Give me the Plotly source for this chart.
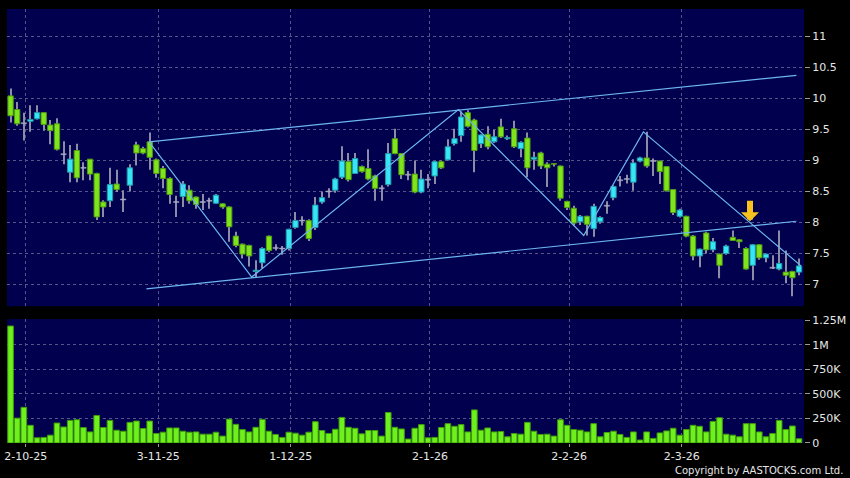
import plotly.graph_objects as go

# ---------------- data ----------------
opens = [10.04, 9.82, 9.60, 9.63, 9.67, 9.77, 9.57, 9.59, 9.10, 8.81,
         9.16, 8.88, 9.02, 8.79, 8.33, 8.35, 8.62, 8.37, 8.60, 9.25,
         9.19, 9.30, 9.01, 8.87, 8.71, 8.33, 8.42, 8.52, 8.41, 8.33,
         8.35, 8.31, 8.30, 8.25, 7.78, 7.65, 7.63, 7.21, 7.35, 7.78,
         7.59, 7.58, 7.58, 7.92, 8.03, 8.03, 7.92, 8.33, 8.50, 8.52,
         8.73, 8.98, 8.79, 8.90, 8.87, 8.75, 8.55, 8.61, 9.35, 9.11,
         8.77, 8.78, 8.49, 8.69, 8.75, 8.98, 9.01, 9.27, 9.40, 9.77,
         9.65, 9.27, 9.42, 9.30, 9.54, 9.35, 9.51, 9.19, 9.36, 9.02,
         9.12, 8.94, 8.95, 8.91, 8.34, 8.23, 8.01, 8.10, 7.90, 8.01,
         8.27, 8.40, 8.68, 8.70, 8.65, 8.99, 9.04, 8.99, 8.99, 8.90,
         8.53, 8.10, 8.10, 7.78, 7.46, 7.83, 7.56, 7.49, 7.50, 7.76,
         7.72, 7.58, 7.31, 7.64, 7.43, 7.27, 7.25, 7.20, 7.21, 7.20]
highs = [10.16, 9.94, 9.77, 9.89, 9.89, 9.78, 9.65, 9.68, 9.31, 9.25,
         9.27, 8.97, 9.02, 8.80, 8.36, 8.88, 8.85, 8.52, 8.94, 9.30,
         9.22, 9.45, 9.03, 8.91, 8.73, 8.43, 8.67, 8.60, 8.42, 8.46,
         8.40, 8.46, 8.31, 8.26, 7.85, 7.66, 7.64, 7.39, 7.60, 7.79,
         7.65, 7.62, 7.90, 8.17, 8.10, 8.05, 8.41, 8.50, 8.55, 8.72,
         9.23, 9.12, 9.12, 8.92, 9.18, 8.77, 8.60, 9.28, 9.51, 9.12,
         8.83, 9.00, 8.85, 8.78, 8.99, 9.00, 9.34, 9.51, 9.79, 9.81,
         9.67, 9.42, 9.55, 9.49, 9.67, 9.40, 9.64, 9.31, 9.45, 9.14,
         9.14, 8.97, 8.96, 8.92, 8.35, 8.27, 8.12, 8.11, 8.30, 8.10,
         8.34, 8.60, 8.75, 8.77, 9.02, 9.06, 9.46, 9.03, 9.00, 8.91,
         8.54, 8.22, 8.11, 7.80, 7.58, 7.85, 7.75, 7.50, 7.64, 7.87,
         7.73, 7.60, 7.65, 7.65, 7.50, 7.47, 7.87, 7.55, 7.22, 7.42]
lows = [9.61, 9.56, 9.32, 9.46, 9.66, 9.48, 9.26, 9.16, 8.94, 8.65,
        8.65, 8.68, 8.68, 8.04, 8.09, 8.25, 8.49, 8.17, 8.50, 8.92,
        9.10, 8.85, 8.72, 8.55, 8.30, 8.09, 8.25, 8.30, 8.22, 8.20,
        8.22, 8.30, 8.22, 7.69, 7.60, 7.42, 7.29, 7.11, 7.26, 7.52,
        7.55, 7.48, 7.55, 7.90, 7.95, 7.70, 7.88, 8.30, 8.40, 8.48,
        8.70, 8.66, 8.78, 8.80, 8.68, 8.35, 8.35, 8.58, 9.10, 8.70,
        8.68, 8.47, 8.47, 8.55, 8.62, 8.86, 9.00, 9.24, 9.30, 9.53,
        8.81, 9.20, 9.18, 9.28, 9.36, 9.33, 9.20, 9.05, 8.73, 8.85,
        8.86, 8.57, 8.90, 8.35, 8.20, 7.95, 7.96, 7.79, 7.77, 7.98,
        8.14, 8.36, 8.58, 8.63, 8.51, 8.97, 8.88, 8.75, 8.62, 8.50,
        8.12, 8.08, 7.76, 7.39, 7.28, 7.50, 7.52, 7.10, 7.48, 7.70,
        7.59, 7.24, 7.07, 7.40, 7.36, 7.25, 7.23, 7.02, 6.81, 7.15]
closes = [9.72, 9.59, 9.60, 9.66, 9.77, 9.58, 9.48, 9.18, 9.10, 9.02,
          8.72, 8.88, 8.78, 8.09, 8.25, 8.61, 8.53, 8.37, 8.88, 9.12,
          9.12, 9.05, 8.79, 8.71, 8.45, 8.33, 8.62, 8.35, 8.29, 8.33,
          8.35, 8.44, 8.25, 7.93, 7.63, 7.49, 7.46, 7.23, 7.58, 7.55,
          7.59, 7.58, 7.89, 8.03, 8.03, 7.74, 8.28, 8.40, 8.50, 8.70,
          8.99, 8.69, 9.03, 8.82, 8.70, 8.55, 8.55, 9.11, 9.11, 8.77,
          8.77, 8.49, 8.70, 8.69, 8.98, 8.88, 9.22, 9.35, 9.70, 9.55,
          9.16, 9.41, 9.22, 9.38, 9.38, 9.37, 9.22, 9.29, 8.88, 9.05,
          8.91, 8.88, 8.94, 8.39, 8.24, 7.99, 8.10, 7.97, 8.26, 8.08,
          8.27, 8.58, 8.68, 8.70, 8.96, 9.04, 8.91, 8.99, 8.82, 8.51,
          8.16, 8.20, 7.78, 7.46, 7.57, 7.56, 7.69, 7.31, 7.62, 7.71,
          7.69, 7.25, 7.64, 7.43, 7.49, 7.27, 7.34, 7.15, 7.11, 7.30]
volumes = [1190e3, 253e3, 363e3, 180e3, 53e3, 57e3, 80e3, 203e3, 163e3, 230e3,
           237e3, 157e3, 113e3, 280e3, 157e3, 230e3, 130e3, 120e3, 210e3, 223e3,
           147e3, 223e3, 97e3, 110e3, 153e3, 153e3, 120e3, 110e3, 113e3, 90e3,
           90e3, 110e3, 70e3, 243e3, 190e3, 137e3, 113e3, 160e3, 240e3, 120e3,
           87e3, 57e3, 110e3, 100e3, 80e3, 110e3, 217e3, 127e3, 97e3, 140e3,
           260e3, 160e3, 150e3, 93e3, 127e3, 127e3, 70e3, 310e3, 160e3, 143e3,
           40e3, 150e3, 187e3, 53e3, 57e3, 157e3, 197e3, 170e3, 187e3, 113e3,
           337e3, 130e3, 153e3, 113e3, 117e3, 63e3, 97e3, 90e3, 210e3, 120e3,
           87e3, 90e3, 70e3, 237e3, 180e3, 137e3, 130e3, 113e3, 197e3, 63e3,
           107e3, 120e3, 87e3, 57e3, 113e3, 30e3, 113e3, 47e3, 103e3, 123e3,
           150e3, 80e3, 137e3, 180e3, 170e3, 113e3, 220e3, 257e3, 90e3, 80e3,
           63e3, 197e3, 197e3, 113e3, 63e3, 97e3, 230e3, 137e3, 173e3, 43e3]

# month tick labels: index of the first trading day of each month
month_idx = [2, 22, 42, 63, 84, 101]
month_labels = ["2-10-25", "3-11-25", "1-12-25", "2-1-26", "2-2-26", "2-3-26"]

price_ticks = [7, 7.5, 8, 8.5, 9, 9.5, 10, 10.5, 11]
price_tick_text = ["7", "7.5", "8", "8.5", "9", "9.5", "10", "10.5", "11"]
vol_ticks = [0, 250e3, 500e3, 750e3, 1000e3, 1250e3]
vol_tick_text = ["0", "250K", "500K", "750K", "1M", "1.25M"]

# drawn trend lines (candle index, price)
channel_upper_x = [20.9, 118.6]
channel_upper_y = [9.30, 10.37]
channel_lower_x = [20.5, 118.6]
channel_lower_y = [6.93, 8.02]
zigzag_x = [20.9, 36.4, 67.6, 86.5, 95.5, 119.3]
zigzag_y = [9.30, 7.12, 9.82, 7.79, 9.46, 7.30]
signal_x = 111.6
signal_y = 8.02

# ---------------- figure ----------------
n = len(opens)
idx = list(range(n))

GREEN = "#80e41c"
GREEN_EDGE = "#4f9c12"
CYAN = "#36e6f4"
CYAN_EDGE = "#1f9aaa"
WICK = "#8c8ca6"
DOJI = "#a8a8c4"
NAVY = "#00004f"
GRID = "#55558a"
TXT = "#e6e6e6"
DOJI_H = 0.016  # drawn thickness of a flat (open == close) body

fig = go.Figure()

# wicks: thin floating bars from low to high
fig.add_trace(go.Bar(
    x=idx, y=[highs[i] - lows[i] for i in idx], base=lows,
    width=0.16, marker=dict(color=WICK, line=dict(width=0)),
    xaxis="x", yaxis="y", hoverinfo="skip", showlegend=False))

up = [i for i in idx if closes[i] > opens[i]]
dn = [i for i in idx if closes[i] < opens[i]]
flat = [i for i in idx if closes[i] == opens[i]]

# candle bodies as floating bars (base = lower of open/close)
fig.add_trace(go.Bar(
    x=flat, y=[DOJI_H] * len(flat), base=[opens[i] - DOJI_H / 2 for i in flat],
    width=0.8, marker=dict(color=DOJI, line=dict(color=DOJI, width=0.5)),
    xaxis="x", yaxis="y", hoverinfo="skip", showlegend=False))
fig.add_trace(go.Bar(
    x=up, y=[closes[i] - opens[i] for i in up], base=[opens[i] for i in up],
    width=0.8, marker=dict(color=CYAN, line=dict(color=CYAN_EDGE, width=1)),
    xaxis="x", yaxis="y", hoverinfo="skip", showlegend=False))
fig.add_trace(go.Bar(
    x=dn, y=[opens[i] - closes[i] for i in dn], base=[closes[i] for i in dn],
    width=0.8, marker=dict(color=GREEN, line=dict(color=GREEN_EDGE, width=1)),
    xaxis="x", yaxis="y", hoverinfo="skip", showlegend=False))

LINE = "#6db6f0"
for xs, ys in [(channel_upper_x, channel_upper_y),
               (channel_lower_x, channel_lower_y),
               (zigzag_x, zigzag_y)]:
    fig.add_trace(go.Scatter(x=xs, y=ys, mode="lines",
                             line=dict(color=LINE, width=1.2),
                             xaxis="x", yaxis="y", hoverinfo="skip",
                             showlegend=False))

fig.add_trace(go.Bar(x=idx, y=volumes, width=0.85,
                     marker=dict(color="#6ef01c", line=dict(color="#3f9a0c", width=1)),
                     xaxis="x2", yaxis="y2", hoverinfo="skip", showlegend=False))

fig.add_annotation(x=signal_x, y=signal_y, xref="x", yref="y",
                   ax=0, ay=-22, showarrow=True, arrowhead=1, arrowsize=0.5,
                   arrowwidth=6, arrowcolor="#f7c21c", standoff=0, text="")

fig.add_annotation(x=1.0511, y=-0.064, xref="paper", yref="paper",
                   xanchor="right", yanchor="middle", showarrow=False,
                   text="Copyright by AASTOCKS.com Ltd.",
                   font=dict(family="DejaVu Sans", size=10, color=TXT))

tick_pos = [m + 0.3 for m in month_idx]
xcommon = dict(range=[-0.54, 119.75], tickvals=tick_pos, ticktext=month_labels,
               showgrid=True, gridcolor=GRID, griddash="3px,3px", gridwidth=1,
               zeroline=False, showline=False, fixedrange=True)
ycommon = dict(side="right", showgrid=True, gridcolor=GRID, griddash="3px,3px",
               gridwidth=1, zeroline=False, showline=False, ticks="outside",
               ticklen=5, tickcolor="#9a9a9a", tickwidth=1,
               tickfont=dict(family="DejaVu Sans", size=11, color=TXT))

fig.update_layout(
    width=850, height=478,
    margin=dict(l=4, r=44, t=5, b=35),
    paper_bgcolor="#000000", plot_bgcolor=NAVY,
    barmode="overlay",
    showlegend=False,
    xaxis=dict(**xcommon, anchor="y", showticklabels=False, ticks=""),
    xaxis2=dict(**xcommon, anchor="y2", showticklabels=True, ticks="outside",
                ticklen=3, tickcolor="#9a9a9a",
                tickfont=dict(family="DejaVu Sans", size=11, color=TXT)),
    yaxis=dict(**ycommon, anchor="x", domain=[0.3151, 1.0], range=[6.65, 11.44],
               tickvals=price_ticks, ticktext=price_tick_text),
    yaxis2=dict(**ycommon, anchor="x2", domain=[0.0, 0.2854], range=[0, 1.26e6],
                tickvals=vol_ticks, ticktext=vol_tick_text),
)

fig.write_html("out.html", config={"displayModeBar": False},
               post_script="document.body.style.margin='0';"
                           "document.body.style.overflow='hidden';"
                           "document.body.style.background='#000';")
